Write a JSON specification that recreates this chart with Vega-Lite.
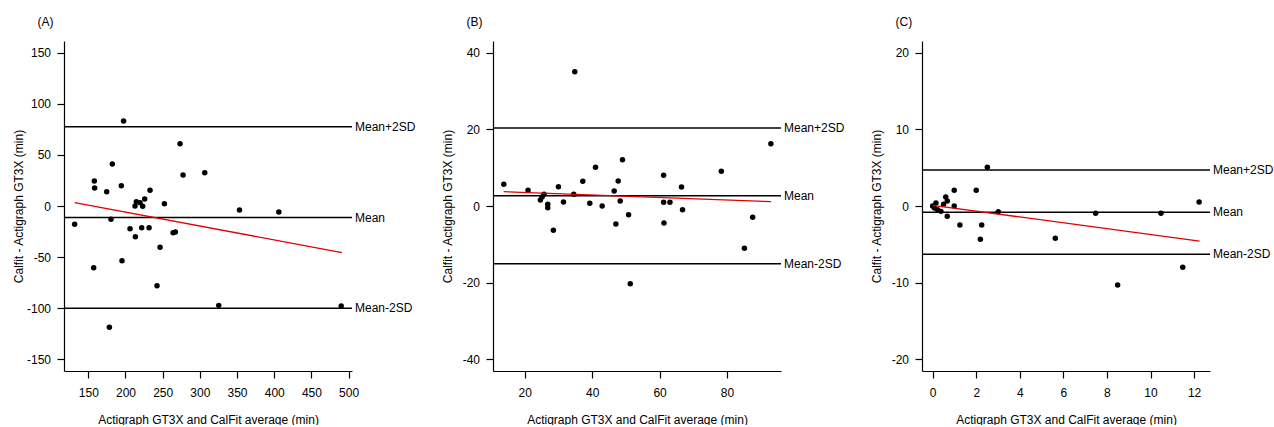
{
  "$schema": "https://vega.github.io/schema/vega-lite/v6.json",
  "background": "white",
  "padding": {"left": 12, "top": 15, "right": 0, "bottom": 0},
  "bounds": "flush",
  "spacing": 141,
  "config": {
    "view": {"stroke": null},
    "font": "Liberation Sans",
    "axis": {
      "grid": false,
      "domainColor": "black",
      "tickColor": "black",
      "labelColor": "black",
      "titleColor": "black",
      "labelFont": "Liberation Sans",
      "titleFont": "Liberation Sans",
      "labelFontSize": 12,
      "titleFontSize": 12,
      "titleFontWeight": "normal",
      "tickSize": 7,
      "domainWidth": 1.2,
      "tickWidth": 1.2,
      "labelOverlap": false,
      "labelFlush": false
    },
    "axisX": {"labelPadding": 9, "titleY": 52, "titleBaseline": "alphabetic", "titleAlign": "center", "titleX": 144},
    "axisY": {"labelPadding": 6.5, "titleX": -42, "titleY": 165, "titleAngle": 270, "titleBaseline": "alphabetic", "titleAlign": "center", "labelAngle": 0},
    "title": {"anchor": "start", "fontSize": 12, "fontWeight": "normal", "font": "Liberation Sans", "color": "black", "baseline": "alphabetic", "offset": 12.5, "dx": -26.5, "frame": "group"}
  },
  "hconcat": [
    {
      "width": 288,
      "height": 330,
      "title": "(A)",
      "layer": [
        {
          "data": {"values": [
            {"avg": 131.6, "diff": -17.9}, {"avg": 157.2, "diff": -60.3}, {"avg": 158.1, "diff": 24.5}, {"avg": 158.5, "diff": 17.6},
            {"avg": 174.7, "diff": 14.0}, {"avg": 178.3, "diff": -118.7}, {"avg": 180.5, "diff": -13.0}, {"avg": 182.3, "diff": 41.1},
            {"avg": 194.4, "diff": 19.9}, {"avg": 195.3, "diff": -53.5}, {"avg": 197.4, "diff": 83.2}, {"avg": 206.1, "diff": -22.2},
            {"avg": 212.8, "diff": 0.0}, {"avg": 213.3, "diff": -30.0}, {"avg": 214.6, "diff": 4.2}, {"avg": 219.6, "diff": 3.3},
            {"avg": 221.8, "diff": -21.2}, {"avg": 223.1, "diff": -0.3}, {"avg": 225.8, "diff": 6.8}, {"avg": 231.7, "diff": -21.2},
            {"avg": 233.0, "diff": 15.3}, {"avg": 242.4, "diff": -77.9}, {"avg": 246.5, "diff": -40.4}, {"avg": 252.3, "diff": 2.3},
            {"avg": 264.0, "diff": -26.1}, {"avg": 267.1, "diff": -25.4}, {"avg": 273.4, "diff": 61.0}, {"avg": 277.4, "diff": 30.3},
            {"avg": 306.6, "diff": 32.6}, {"avg": 325.4, "diff": -97.2}, {"avg": 353.3, "diff": -3.9}, {"avg": 406.2, "diff": -5.9},
            {"avg": 490.1, "diff": -97.8}
          ]},
          "mark": {"type": "circle", "size": 30, "color": "black", "opacity": 1},
          "encoding": {
            "x": {"field": "avg", "type": "quantitative", "scale": {"domain": [117.3, 504.6], "nice": false, "zero": false},
                  "axis": {"values": [150, 200, 250, 300, 350, 400, 450, 500], "title": "Actigraph GT3X and CalFit average (min)", "labelExpr": "'' + datum.value"}},
            "y": {"field": "diff", "type": "quantitative", "scale": {"domain": [-161.4, 161.4], "nice": false, "zero": false},
                  "axis": {"values": [-150, -100, -50, 0, 50, 100, 150], "title": "Calfit - Actigraph GT3X  (min)", "labelExpr": "'' + datum.value"}}
          }
        },
        {
          "data": {"values": [{"label": "Mean+2SD", "value": 77.5}, {"label": "Mean", "value": -11.25}, {"label": "Mean-2SD", "value": -100.0}]},
          "layer": [
            {"mark": {"type": "rule", "color": "black", "strokeWidth": 1.5}, "encoding": {"y": {"field": "value", "type": "quantitative"}}},
            {"mark": {"type": "text", "align": "left", "baseline": "middle", "dx": 3, "fontSize": 12, "color": "black"},
             "encoding": {"x": {"datum": 504.6}, "y": {"field": "value", "type": "quantitative"}, "text": {"field": "label"}}}
          ]
        },
        {
          "data": {"values": [{"avg": 131.7, "fit": 3.3}, {"avg": 491.0, "fit": -45.5}]},
          "mark": {"type": "line", "color": "#e00000", "strokeWidth": 1.3},
          "encoding": {"x": {"field": "avg", "type": "quantitative"}, "y": {"field": "fit", "type": "quantitative"}}
        },
        {
          "mark": {"type": "text", "align": "left", "baseline": "alphabetic", "fontSize": 12, "color": "black", "text": "CCC = 0.825 ( 0.682 ; 0.908 )"},
          "encoding": {"x": {"datum": 146.0}, "y": {"datum": -137.8}}
        },
        {
          "mark": {"type": "text", "align": "left", "baseline": "alphabetic", "fontSize": 12, "color": "#e00000", "text": "Coefficient of bias = -0.135 ( -0.341 ; 0.071 )"},
          "encoding": {"x": {"datum": 146.0}, "y": {"datum": -152.0}}
        }
      ]
    },
    {
      "width": 288,
      "height": 330,
      "title": "(B)",
      "layer": [
        {
          "data": {"values": [
            {"avg": 13.8, "diff": 5.65}, {"avg": 21.0, "diff": 4.09}, {"avg": 24.65, "diff": 1.57}, {"avg": 25.15, "diff": 2.35},
            {"avg": 25.74, "diff": 3.04}, {"avg": 26.83, "diff": 0.43}, {"avg": 26.83, "diff": -0.43}, {"avg": 28.5, "diff": -6.35},
            {"avg": 30.0, "diff": 5.04}, {"avg": 31.5, "diff": 1.04}, {"avg": 34.55, "diff": 3.04}, {"avg": 34.85, "diff": 35.0},
            {"avg": 37.23, "diff": 6.43}, {"avg": 39.3, "diff": 0.7}, {"avg": 41.0, "diff": 10.09}, {"avg": 42.97, "diff": 0.0},
            {"avg": 46.54, "diff": 3.91}, {"avg": 47.03, "diff": -4.7}, {"avg": 47.72, "diff": 6.52}, {"avg": 48.32, "diff": 1.3},
            {"avg": 49.0, "diff": 12.09}, {"avg": 50.8, "diff": -2.26}, {"avg": 51.3, "diff": -20.26}, {"avg": 61.2, "diff": 8.0},
            {"avg": 61.2, "diff": 0.96}, {"avg": 61.3, "diff": -4.43}, {"avg": 63.07, "diff": 0.96}, {"avg": 66.5, "diff": 4.96},
            {"avg": 66.8, "diff": -0.96}, {"avg": 78.3, "diff": 9.04}, {"avg": 85.15, "diff": -11.04}, {"avg": 87.6, "diff": -2.96},
            {"avg": 93.0, "diff": 16.26}
          ]},
          "mark": {"type": "circle", "size": 30, "color": "black", "opacity": 1},
          "encoding": {
            "x": {"field": "avg", "type": "quantitative", "scale": {"domain": [10.6, 96.0], "nice": false, "zero": false},
                  "axis": {"values": [20, 40, 60, 80], "title": "Actigraph GT3X and CalFit average (min)", "labelExpr": "'' + datum.value"}},
            "y": {"field": "diff", "type": "quantitative", "scale": {"domain": [-43.04, 43.04], "nice": false, "zero": false},
                  "axis": {"values": [-40, -20, 0, 20, 40], "title": "Calfit - Actigraph GT3X  (min)", "labelExpr": "'' + datum.value"}}
          }
        },
        {
          "data": {"values": [{"label": "Mean+2SD", "value": 20.35}, {"label": "Mean", "value": 2.65}, {"label": "Mean-2SD", "value": -15.05}]},
          "layer": [
            {"mark": {"type": "rule", "color": "black", "strokeWidth": 1.5}, "encoding": {"y": {"field": "value", "type": "quantitative"}}},
            {"mark": {"type": "text", "align": "left", "baseline": "middle", "dx": 3, "fontSize": 12, "color": "black"},
             "encoding": {"x": {"datum": 96.0}, "y": {"field": "value", "type": "quantitative"}, "text": {"field": "label"}}}
          ]
        },
        {
          "data": {"values": [{"avg": 13.76, "fit": 3.74}, {"avg": 93.07, "fit": 1.13}]},
          "mark": {"type": "line", "color": "#e00000", "strokeWidth": 1.3},
          "encoding": {"x": {"field": "avg", "type": "quantitative"}, "y": {"field": "fit", "type": "quantitative"}}
        },
        {
          "mark": {"type": "text", "align": "left", "baseline": "alphabetic", "fontSize": 12, "color": "black", "text": "CCC = 0.902 ( 0.813 ; 0.950 )"},
          "encoding": {"x": {"datum": 17.0}, "y": {"datum": -36.74}}
        },
        {
          "mark": {"type": "text", "align": "left", "baseline": "alphabetic", "fontSize": 12, "color": "#e00000", "text": "Coefficient of bias = -0.032 ( -0.185 ; 0.12 )"},
          "encoding": {"x": {"datum": 17.0}, "y": {"datum": -40.52}}
        }
      ]
    },
    {
      "width": 288,
      "height": 330,
      "title": "(C)",
      "layer": [
        {
          "data": {"values": [
            {"avg": 0.0, "diff": 0.0}, {"avg": 0.08, "diff": -0.26}, {"avg": 0.15, "diff": 0.39}, {"avg": 0.23, "diff": -0.48},
            {"avg": 0.38, "diff": -0.7}, {"avg": 0.5, "diff": 0.22}, {"avg": 0.6, "diff": 1.17}, {"avg": 0.67, "diff": 0.65},
            {"avg": 0.67, "diff": -1.35}, {"avg": 0.99, "diff": 2.04}, {"avg": 0.99, "diff": 0.0}, {"avg": 1.25, "diff": -2.48},
            {"avg": 2.0, "diff": 2.04}, {"avg": 2.19, "diff": -4.35}, {"avg": 2.25, "diff": -2.48}, {"avg": 2.51, "diff": 5.04},
            {"avg": 3.01, "diff": -0.74}, {"avg": 5.63, "diff": -4.22}, {"avg": 7.48, "diff": -0.96}, {"avg": 8.49, "diff": -10.3},
            {"avg": 10.48, "diff": -0.96}, {"avg": 11.48, "diff": -8.0}, {"avg": 12.23, "diff": 0.52}
          ]},
          "mark": {"type": "circle", "size": 30, "color": "black", "opacity": 1},
          "encoding": {
            "x": {"field": "avg", "type": "quantitative", "scale": {"domain": [-0.49, 12.73], "nice": false, "zero": false},
                  "axis": {"values": [0, 2, 4, 6, 8, 10, 12], "title": "Actigraph GT3X and CalFit average (min)", "labelExpr": "'' + datum.value"}},
            "y": {"field": "diff", "type": "quantitative", "scale": {"domain": [-21.52, 21.52], "nice": false, "zero": false},
                  "axis": {"values": [-20, -10, 0, 10, 20], "title": "Calfit - Actigraph GT3X  (min)", "labelExpr": "'' + datum.value"}}
          }
        },
        {
          "data": {"values": [{"label": "Mean+2SD", "value": 4.7}, {"label": "Mean", "value": -0.8}, {"label": "Mean-2SD", "value": -6.3}]},
          "layer": [
            {"mark": {"type": "rule", "color": "black", "strokeWidth": 1.5}, "encoding": {"y": {"field": "value", "type": "quantitative"}}},
            {"mark": {"type": "text", "align": "left", "baseline": "middle", "dx": 3, "fontSize": 12, "color": "black"},
             "encoding": {"x": {"datum": 12.73}, "y": {"field": "value", "type": "quantitative"}, "text": {"field": "label"}}}
          ]
        },
        {
          "data": {"values": [{"avg": 0.0, "fit": 0.09}, {"avg": 12.25, "fit": -4.57}]},
          "mark": {"type": "line", "color": "#e00000", "strokeWidth": 1.3},
          "encoding": {"x": {"field": "avg", "type": "quantitative"}, "y": {"field": "fit", "type": "quantitative"}}
        },
        {
          "mark": {"type": "text", "align": "left", "baseline": "alphabetic", "fontSize": 12, "color": "black", "text": "CCC = 0.734 ( 0.561 ; 0.845 )"},
          "encoding": {"x": {"datum": 0.505}, "y": {"datum": -18.37}}
        },
        {
          "mark": {"type": "text", "align": "left", "baseline": "alphabetic", "fontSize": 12, "color": "#e00000", "text": "Coefficient of bias = -0.382 ( -0.613 ; -0.152 )"},
          "encoding": {"x": {"datum": 0.505}, "y": {"datum": -20.26}}
        }
      ]
    }
  ]
}
